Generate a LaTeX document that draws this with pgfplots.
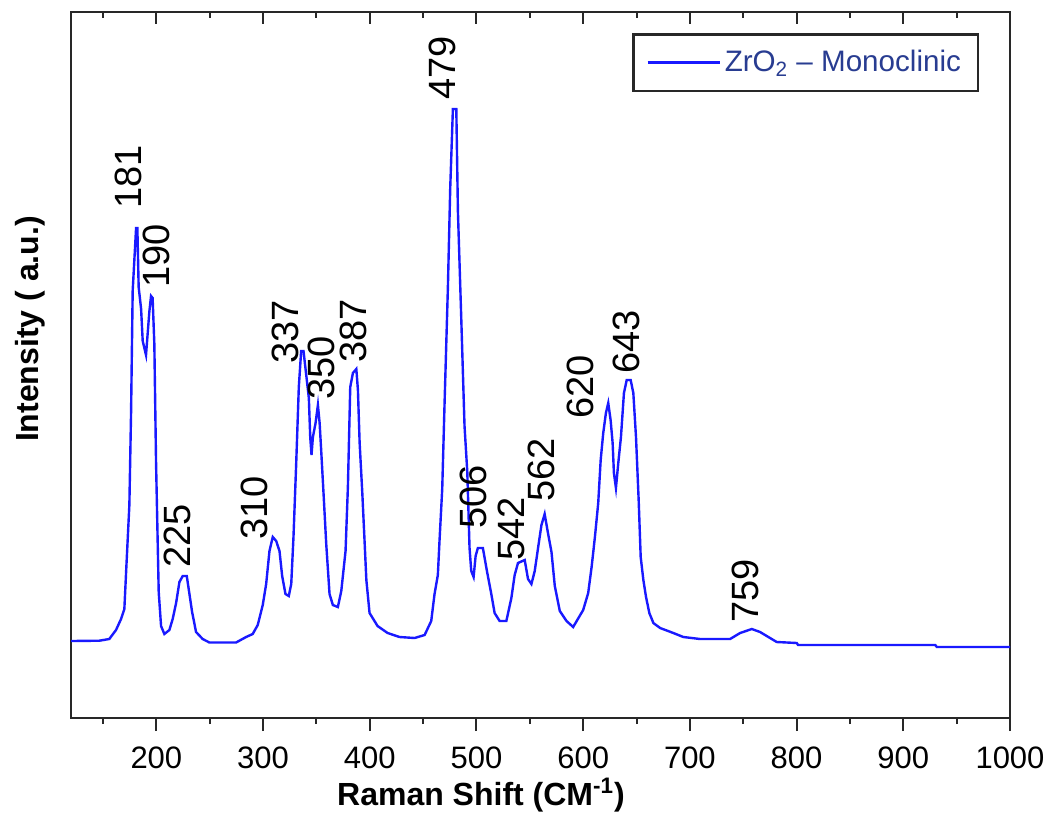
\documentclass[border=0pt]{standalone}
\usepackage{pgfplots}
\pgfplotsset{compat=1.18}
\usepackage{fontspec}
\setmainfont{Liberation Sans}
\definecolor{curve}{RGB}{25,25,255}
\definecolor{legtext}{RGB}{40,60,145}
\definecolor{axcol}{RGB}{40,40,40}
\newcommand{\pk}{\fontsize{19}{22}\selectfont}
\begin{document}
\begin{tikzpicture}
\begin{axis}[
  name=main,
  scale only axis, width=469.5pt, height=353pt,
  xmin=120, xmax=1000, ymin=0, ymax=706,
  axis line style={line width=1.2pt, color=axcol},
  xtick={200,300,...,1000}, minor xtick={150,250,...,950},
  xtick pos=left, tick align=outside,
  major tick length=6.5pt, minor tick length=3pt,
  every tick/.style={line width=1pt, axcol},
  ytick=\empty,
  /pgf/number format/assume math mode=true,
  /pgf/number format/1000 sep={},
  tick label style={font=\fontsize{15.5}{17}\selectfont},
  xticklabel style={yshift=-4.5pt},
  xlabel={Raman Shift (CM\textsuperscript{-1})},
  ylabel={Intensity ( a.u.)},
  label style={font=\bfseries\fontsize{16}{19}\selectfont},
  xlabel style={at={(axis description cs:0.4366,-0.109)}, anchor=center},
  ylabel style={at={(axis description cs:-0.0437,0.551)}, anchor=center},
  legend style={at={(axis description cs:0.5975,0.970)}, anchor=north west,
    draw=axcol, line width=1.3pt, inner xsep=6.5pt, inner ysep=6pt,
    font=\fontsize{14.8}{17}\selectfont, text=legtext},
  legend cell align=left,
  legend image code/.code={\draw[#1] (0pt,0pt) -- (36pt,0pt);},
]
\addplot[curve, line width=1.2pt] coordinates {
(120,77) (146.5,77.3) (155.9,79) (162.2,88) (166.9,99) (170.0,109) (171.6,145)
(174.7,213) (176.3,306) (177.8,427) (181.0,490) (182.2,490) (183.4,431) (185.7,409)
(187.2,377) (190.3,363) (193.4,406) (195.0,422) (196.5,420) (198.1,374) (199.7,256)
(202.2,126) (204.4,92) (207.5,84) (212.2,88) (215.3,99) (218.5,115) (221.6,136)
(224.7,142) (228.5,142) (231.0,124) (233.5,106) (237.2,86) (243.4,79) (249.7,75.5)
(274.7,75.5) (284.1,81) (290.3,84) (295.0,93) (299.7,113) (302.9,134) (306.0,167)
(309.1,181) (312.3,177) (315.4,167) (317.9,142) (321.0,124) (324.1,122) (326.4,134)
(328.5,181) (331.1,256) (333.5,331) (335.7,367) (337.9,367) (342.9,320) (344.2,281)
(345.4,263) (346.7,281) (349.2,295) (351.4,313) (353.0,295) (354.5,267) (356.7,224)
(359.2,174) (362.3,124) (365.4,113) (370.1,111) (373.3,127) (377.3,167) (379.5,231)
(381.7,331) (384.2,345) (387.4,349) (388.9,328) (390.5,275) (393.0,225) (395.2,175)
(396.8,138) (399.8,105) (407.3,92) (416.7,85) (427.9,81) (442.0,80) (451.4,83)
(457.6,97) (460.7,124) (463.8,143) (465.4,178) (467.9,229) (470.1,315) (473.2,430)
(475.4,530) (477.9,609) (481.1,609) (482.6,507) (485.7,401) (488.8,292) (491.4,246)
(493.5,170) (495.1,147) (497.3,141) (499.2,162) (501.3,170) (506.0,170) (509.8,147)
(513.9,124) (517.0,105) (521.7,97) (528.0,97) (532.7,120) (535.8,143) (538.9,155)
(545.2,158) (548.3,139) (551.5,134) (554.6,147) (557.7,170) (560.9,193) (563.9,204)
(567.0,185) (570.3,166) (573.4,132) (578.1,107) (584.4,97) (590.6,91) (600.0,108)
(604.7,125) (607.9,151) (611.0,181) (614.1,215) (616.4,258) (618.8,285) (621.3,305)
(623.5,315) (625.7,298) (627.6,275) (628.8,245) (630.7,230) (632.9,255) (635.4,281)
(638.2,325) (640.8,338) (644.5,338) (647.0,325) (649.5,281) (652.0,218) (653.9,161)
(656.4,138) (658.9,121) (662.0,105) (665.8,95) (672.1,90) (684.5,85) (693.9,81)
(709.5,79) (737.7,79) (747.1,85) (758.0,89) (765.8,86) (781.4,76) (800.2,75)
(801.4,73) (929.9,73) (931.5,71) (1000,71)
};
\addlegendentry{ZrO\textsubscript{2} -- Monoclinic}
\node[rotate=90, font=\pk] at (axis cs:173.7,541) {181};
\node[rotate=90, font=\pk] at (axis cs:200.5,462) {190};
\node[rotate=90, font=\pk] at (axis cs:219.7,182) {225};
\node[rotate=90, font=\pk] at (axis cs:291.9,210) {310};
\node[rotate=90, font=\pk] at (axis cs:321.0,386) {337};
\node[rotate=90, font=\pk] at (axis cs:354.7,350) {350};
\node[rotate=90, font=\pk] at (axis cs:384.8,387) {387};
\node[rotate=90, font=\pk] at (axis cs:468.2,650) {479};
\node[rotate=90, font=\pk] at (axis cs:497.3,221) {506};
\node[rotate=90, font=\pk] at (axis cs:532.9,189) {542};
\node[rotate=90, font=\pk] at (axis cs:561.1,248) {562};
\node[rotate=90, font=\pk] at (axis cs:597.6,331) {620};
\node[rotate=90, font=\pk] at (axis cs:640.8,376) {643};
\node[rotate=90, font=\pk] at (axis cs:752.4,127) {759};
\end{axis}
\begin{axis}[
  at={(main.south west)}, anchor=south west,
  scale only axis, width=469.5pt, height=353pt,
  xmin=120, xmax=1000, ymin=0, ymax=706,
  axis line style={draw=none},
  xtick={200,300,...,1000}, minor xtick={150,250,...,950},
  xtick pos=right, tick align=inside, xticklabels={},
  major tick length=6pt, minor tick length=3pt,
  every tick/.style={line width=1pt, axcol},
  ytick=\empty,
]
\end{axis}
\pgfresetboundingbox
\useasboundingbox ([xshift=-35.5pt,yshift=-48pt]main.south west) rectangle ([xshift=17.5pt,yshift=6pt]main.north east);
\end{tikzpicture}
\end{document}
